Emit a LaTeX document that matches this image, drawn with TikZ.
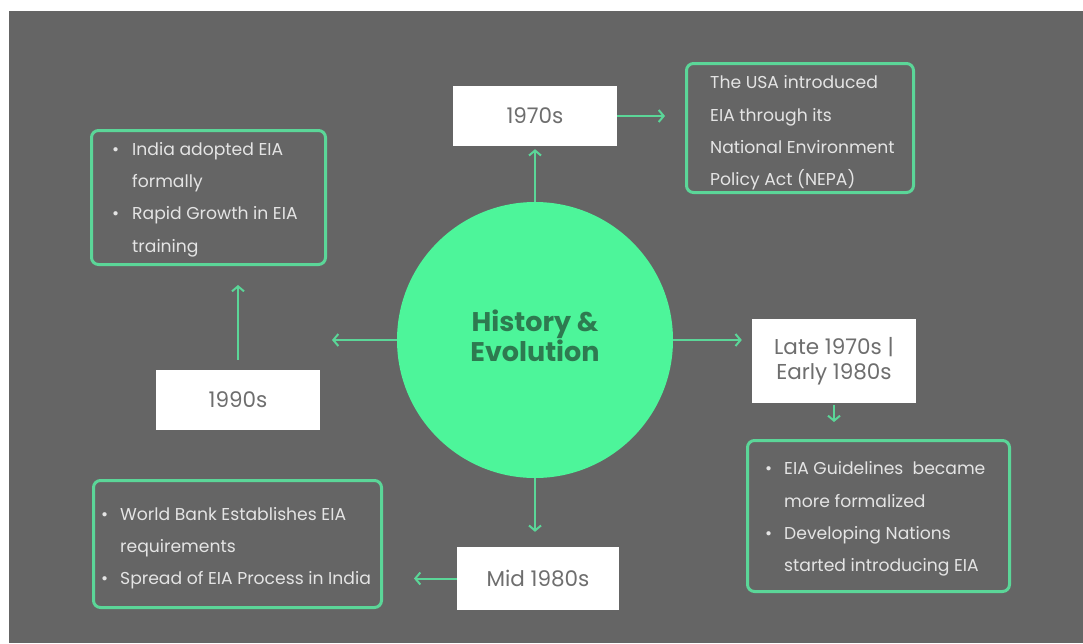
\documentclass[tikz,border=0pt]{standalone}
\usepackage{fontspec}
\setmainfont{Poppins}
\usetikzlibrary{arrows.meta}
\definecolor{bg}{HTML}{656565}
\definecolor{mint}{HTML}{4DF59A}
\definecolor{edgegreen}{HTML}{5BD698}
\definecolor{titlegreen}{HTML}{2E7A50}
\definecolor{datetxt}{HTML}{6E6E6E}
\definecolor{infotxt}{HTML}{E4E4E4}
\newcommand\mybul[1]{\makebox[#1][l]{\textbullet}}
\newcommand\myind[1]{\hspace*{#1}}
\begin{document}
\begin{tikzpicture}[x=1pt,y=-1pt,
  datebox/.style={fill=white, inner sep=0pt, text=datetxt, font=\fontsize{21.5}{25}\selectfont, align=center},
  infobox/.style={draw=edgegreen, line width=3pt, rounded corners=7pt, inner sep=0pt},
  infotext/.style={text=infotxt, font=\fontsize{17.2}{32.3}\selectfont, align=left, inner sep=0pt, anchor=west},
  arr/.style={draw=edgegreen, line width=2pt, -{Straight Barb[length=5pt,width=12pt]}}]
\useasboundingbox (0,0) rectangle (1083,643);
\fill[bg] (9,11) rectangle (1083,643);

% centre
\node[circle, fill=mint, minimum size=276pt, inner sep=0pt,
  label={[name=histT, text=titlegreen, font=\fontsize{27}{28.5}\selectfont\bfseries, align=center, yshift=4pt]center:History \&\\Evolution}] (hist) at (535,340) {};

% date boxes
\node[datebox, minimum width=164pt, minimum height=60pt] (y1970) at (535,116) {1970s};
\node[datebox, minimum width=164pt, minimum height=60pt] (y1990) at (238,400) {1990s};
\node[datebox, minimum width=164pt, minimum height=84pt] (late) at (834,361) {Late 1970s |\\Early 1980s};
\node[datebox, minimum width=162pt, minimum height=63pt] (mid) at (538,578.5) {Mid 1980s};

% info boxes
\node[infobox, minimum width=227pt, minimum height=129pt] (nepa) at (800,128) {};
\node[infotext] (nepaT) at ([xshift=25pt, yshift=-5pt]nepa.west) {The USA introduced\\EIA through its\\National Environment\\Policy Act (NEPA)};

\node[infobox, minimum width=234pt, minimum height=134pt] (india) at (208.5,197.5) {};
\node[infotext] (indiaT) at ([xshift=22pt, yshift=-2pt]india.west) {\mybul{20pt}India adopted EIA\\\myind{20pt}formally\\\mybul{20pt}Rapid Growth in EIA\\\myind{20pt}training};

\node[infobox, minimum width=262pt, minimum height=151pt] (eia) at (878.5,516) {};
\node[infotext] (eiaT) at ([xshift=19pt, yshift=-3pt]eia.west) {\mybul{19pt}EIA Guidelines\ \ became\\\myind{19pt}more formalized\\\mybul{19pt}Developing Nations\\\myind{19pt}started introducing EIA};

\node[infobox, minimum width=288pt, minimum height=127pt] (wb) at (237.5,544) {};
\node[infotext] (wbT) at ([xshift=9pt, yshift=-4pt]wb.west) {\mybul{19pt}World Bank Establishes EIA\\\myind{19pt}requirements\\\mybul{19pt}Spread of EIA Process in India};

% connectors
\coordinate (leftend) at (332,340);
\draw[arr, shorten >=3pt] (hist.north) -- (hist.north |- y1970.south);
\draw[arr, shorten >=20pt] (y1970.east) -- (y1970.east -| nepa.west);
\draw[arr] (hist.west) -- (leftend);
\draw[arr, shorten <=10pt, shorten >=19pt] (y1990.north) -- (y1990.north |- india.south);
\draw[arr, shorten >=10pt] (hist.east) -- (hist.east -| late.west);
\draw[arr, shorten <=2pt, shorten >=17pt] (late.south) -- (late.south |- eia.north);
\draw[arr, shorten >=15pt] (hist.south) -- (hist.south |- mid.north);
\draw[arr, shorten >=31pt] (mid.west) -- (mid.west -| wb.east);
\end{tikzpicture}
\end{document}
